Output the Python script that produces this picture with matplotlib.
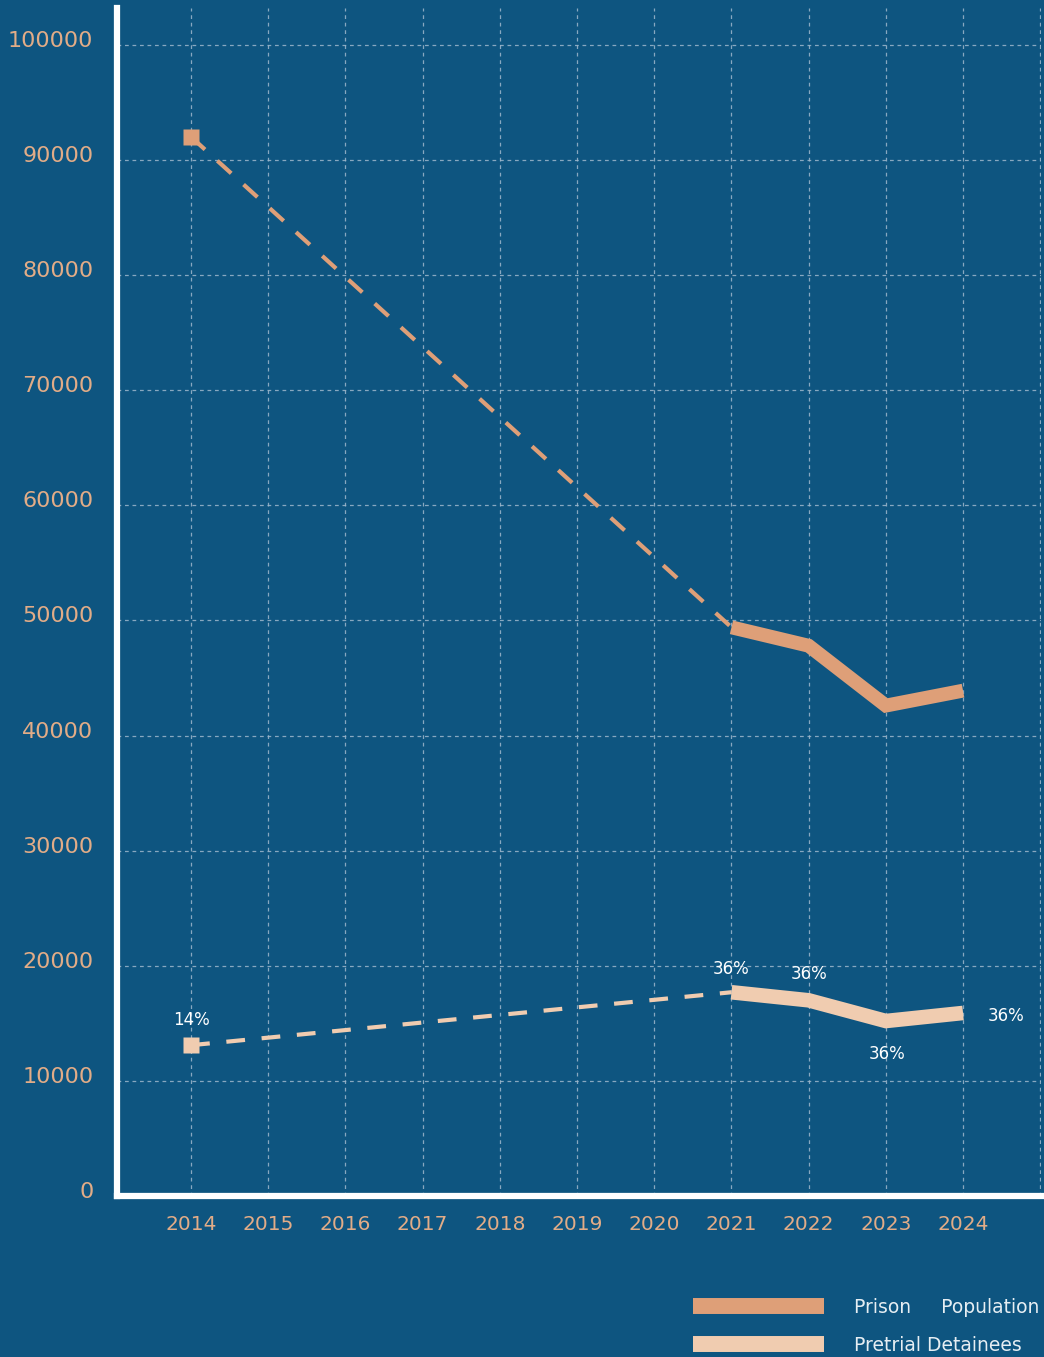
import matplotlib
matplotlib.use("Agg")
import matplotlib.pyplot as plt
from matplotlib.lines import Line2D
from matplotlib.transforms import ScaledTranslation

# Data
years = [2014, 2015, 2016, 2017, 2018, 2019, 2020, 2021, 2022, 2023, 2024]
prison_years = [2014, 2021, 2022, 2023, 2024]
prison_pop = [92000, 49400, 47800, 42600, 43900]
pretrial_years = [2014, 2021, 2022, 2023, 2024]
pretrial = [13100, 17700, 17000, 15200, 15900]
pretrial_share = ["14%", "36%", "36%", "36%", "36%"]
y_ticks = [0, 10000, 20000, 30000, 40000, 50000, 60000, 70000, 80000, 90000, 100000]

BG = "#0E5580"
PRISON = "#DE9F78"
PRETRIAL = "#F0CCB0"
TICK = "#E2AC87"
GRID = "#9FB8CC"

plt.rcParams["font.family"] = ["DejaVu Sans"]

fig = plt.figure(figsize=(10.44, 13.57), dpi=100, facecolor=BG)
ax = fig.add_axes([117 / 1044, 1 - 1196 / 1357, 924 / 1044, 1188 / 1357])
ax.set_facecolor(BG)

ax.set_xlim(2013.04, 2025.01)
ax.set_ylim(0, 103200)

# grid
ax.set_xticks(years + [2025])
ax.set_xticklabels([str(y) for y in years] + [""])
ax.set_yticks(y_ticks)
ax.set_yticklabels([str(v) for v in y_ticks])
ax.grid(True, color=GRID, linestyle=(0, (3, 3)), linewidth=0.9, alpha=0.85)
ax.set_axisbelow(True)

for side in ["top", "right"]:
    ax.spines[side].set_visible(False)
for side in ["left", "bottom"]:
    ax.spines[side].set_color("white")
    ax.spines[side].set_linewidth(4.5)

ax.tick_params(axis="both", length=0, colors=TICK)
ax.tick_params(axis="y", pad=17, labelsize=16)
ax.tick_params(axis="x", pad=14, labelsize=14.5)

# dashed trend between first and recent observation
ax.plot(prison_years[:2], prison_pop[:2], color=PRISON, lw=3,
        linestyle=(0, (4.5, 4)), dash_capstyle="butt", zorder=3)
ax.plot(pretrial_years[:2], pretrial[:2], color=PRETRIAL, lw=3,
        linestyle=(0, (4.5, 4)), dash_capstyle="butt", zorder=3)

# solid recent series
ax.plot(prison_years[1:], prison_pop[1:], color=PRISON, lw=10,
        solid_capstyle="butt", solid_joinstyle="miter", zorder=4)
ax.plot(pretrial_years[1:], pretrial[1:], color=PRETRIAL, lw=10.5,
        solid_capstyle="butt", solid_joinstyle="miter", zorder=4)

# first-year markers
ax.plot(prison_years[0], prison_pop[0], marker="s", ms=11.5, color=PRISON,
        mec="none", zorder=5)
ax.plot(pretrial_years[0], pretrial[0], marker="s", ms=11.5, color=PRETRIAL,
        mec="none", zorder=5)

# share labels
offsets = [(0, 18), (0, 17), (0, 19), (1, -24), (31, -2)]
for x, y, s, (dx, dy) in zip(pretrial_years, pretrial, pretrial_share, offsets):
    ax.annotate(s, (x, y), xytext=(dx, dy), textcoords="offset points",
                ha="center", va="center", color="white", fontsize=12,
                zorder=6)

# legend
h1 = Line2D([], [], color=PRISON, lw=11.5, solid_capstyle="butt")
h2 = Line2D([], [], color=PRETRIAL, lw=11.5, solid_capstyle="butt")
leg = fig.legend([h1, h2], ["Prison     Population", "Pretrial Detainees"],
                 loc="upper left", bbox_to_anchor=(693 / 1044, 1 - 1298 / 1357),
                 frameon=False, handlelength=7.0, handletextpad=1.6,
                 labelspacing=1.0, fontsize=13.5, borderaxespad=0,
                 borderpad=0)
for t in leg.get_texts():
    t.set_color("#E6EEF3")

# lift the y tick labels slightly above their grid lines
fig.canvas.draw()
lift = ScaledTranslation(0, 6 / 100, fig.dpi_scale_trans)
for lbl in ax.get_yticklabels():
    lbl.set_transform(lbl.get_transform() + lift)

fig.savefig("out.png", dpi=100, facecolor=BG)
